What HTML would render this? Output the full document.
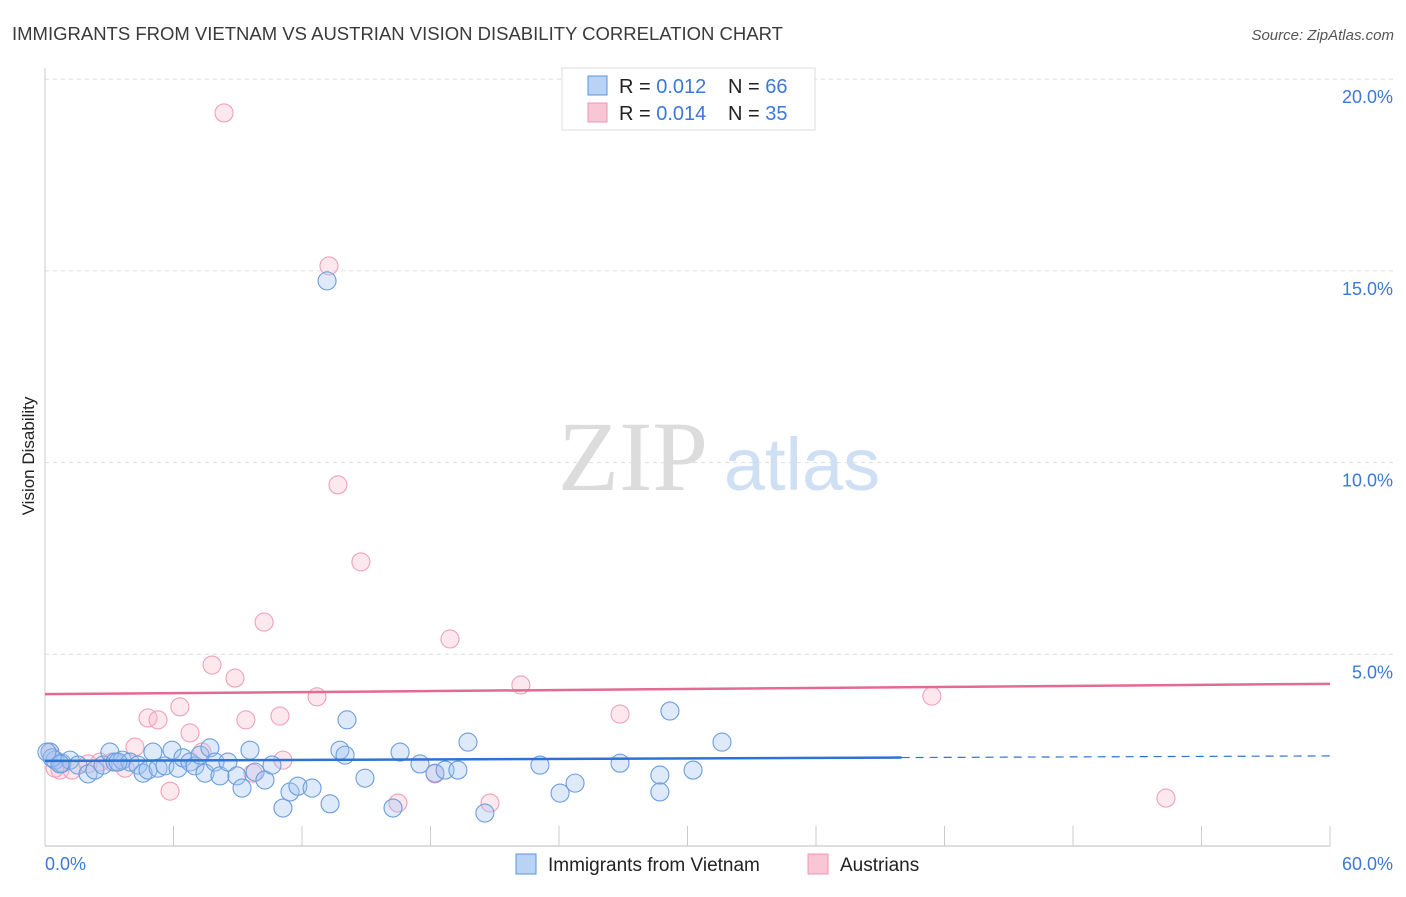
<!DOCTYPE html>
<html><head><meta charset="utf-8"><style>
body{margin:0;background:#fff;font-family:"Liberation Sans",sans-serif}
</style></head><body>
<svg width="1406" height="892" xmlns="http://www.w3.org/2000/svg" font-family="Liberation Sans, sans-serif">
<text x="12" y="40" font-size="18.5" fill="#3a3a3a">IMMIGRANTS FROM VIETNAM VS AUSTRIAN VISION DISABILITY CORRELATION CHART</text>
<text x="1394" y="40" font-size="15" fill="#555" font-style="italic" text-anchor="end">Source: ZipAtlas.com</text>
<text x="34" y="456" font-size="17" fill="#222" transform="rotate(-90 34 456)" text-anchor="middle">Vision Disability</text>
<g><text x="633" y="490" font-size="100" fill="#dcdcdc" text-anchor="middle" font-family="Liberation Serif, serif">ZIP</text><text x="802" y="490" font-size="74" fill="#cfe0f4" text-anchor="middle">atlas</text></g>
<g id="grid"></g><g id="axes"></g><g id="pts"></g><g id="trends"></g>
<g>
<rect x="562" y="68" width="253" height="62" fill="#fff" stroke="#ddd"/>
<rect x="588" y="76" width="19" height="19" fill="#b8d3f5" stroke="#5b93d9"/>
<text y="93" font-size="20" fill="#222"><tspan x="619">R = </tspan><tspan fill="#3b78d8">0.012</tspan><tspan x="728">N = </tspan><tspan fill="#3b78d8">66</tspan></text>
<rect x="588" y="103" width="19" height="19" fill="#f9c6d6" stroke="#ee94b0"/>
<text y="120" font-size="20" fill="#222"><tspan x="619">R = </tspan><tspan fill="#3b78d8">0.014</tspan><tspan x="728">N = </tspan><tspan fill="#3b78d8">35</tspan></text>
</g>
<g>
<rect x="516" y="854" width="20" height="20" fill="#b8d3f5" stroke="#5b93d9"/>
<text x="548" y="871" font-size="19" fill="#222">Immigrants from Vietnam</text>
<rect x="808" y="854" width="20" height="20" fill="#f9c6d6" stroke="#ee94b0"/>
<text x="840" y="871" font-size="19" fill="#222">Austrians</text>
</g>
</svg>
<script>
const yTicks=[5,10,15,20];
const yTickLabels=["5.0%","10.0%","15.0%","20.0%"];
const xTickLabels=["0.0%","60.0%"];
const blueX=[0.23,0.47,0.79,1.17,1.54,2.01,2.33,2.71,3.03,3.27,3.60,3.97,4.34,4.58,4.81,5.04,5.28,5.60,5.93,6.21,6.44,6.77,7.00,7.24,7.47,7.70,7.94,8.17,8.54,8.96,9.20,9.57,9.81,10.27,10.60,11.11,11.44,11.81,12.47,13.31,13.17,13.77,14.01,14.10,14.94,16.25,16.58,17.51,18.21,18.68,19.28,19.75,20.54,23.11,24.05,24.75,26.85,28.71,28.71,29.18,30.26,31.61,0.33,0.70,0.09,3.41];
const blueY=[2.45,2.24,2.16,2.24,2.11,1.88,1.98,2.11,2.45,2.19,2.24,2.19,2.11,1.90,1.98,2.45,2.03,2.09,2.50,2.03,2.30,2.19,2.09,2.37,1.90,2.56,2.19,1.83,2.19,1.83,1.51,2.50,1.93,1.72,2.11,0.99,1.41,1.56,1.51,1.10,14.74,2.50,2.37,3.29,1.77,0.99,2.45,2.14,1.90,1.98,1.98,2.71,0.86,2.11,1.38,1.64,2.16,1.85,1.41,3.52,1.98,2.71,2.30,2.14,2.45,2.19];
const pinkX=[8.36,13.26,13.68,14.75,10.23,18.91,7.80,8.87,22.22,12.70,6.30,4.81,5.28,9.38,10.97,26.85,41.41,6.77,4.20,7.33,11.11,2.57,0.70,1.26,3.74,9.71,18.21,16.48,20.78,52.34,5.84,0.23,2.01,3.13,0.47];
const pinkY=[19.12,15.13,9.42,7.41,5.84,5.40,4.72,4.38,4.20,3.89,3.63,3.34,3.29,3.29,3.39,3.44,3.91,2.95,2.58,2.45,2.24,2.19,1.98,1.98,2.03,1.90,1.88,1.12,1.12,1.25,1.43,2.45,2.14,2.19,2.03];
const blueTrend=[2.22,2.35];
const pinkTrend=[3.96,4.23];
const NS="http://www.w3.org/2000/svg";
const xs=v=>45+v/60*1285, ys=v=>846-v/5*191.7;
function mk(p,t,a){const e=document.createElementNS(NS,t);for(const k in a)e.setAttribute(k,a[k]);document.getElementById(p).appendChild(e);return e;}
yTicks.forEach((t,i)=>{
 let l=mk('grid','line',{x1:45,x2:1394,y1:ys(t),y2:ys(t),stroke:'#ddd','stroke-dasharray':'4,4'});
 
 
 let tx=mk('grid','text',{x:1393,y:ys(t)+24,'font-size':18,fill:'#3b78d8','text-anchor':'end'});tx.textContent=yTickLabels[i];
 
 
});
mk('axes','line',{x1:45,x2:45,y1:68,y2:846,stroke:'#ccc'});
let ax=mk('axes','line',{x1:45,x2:1330,y1:846,y2:846,stroke:'#bbb'});


for(let i=1;i<=10;i++){mk('axes','line',{x1:xs(i*6),x2:xs(i*6),y1:826,y2:846,stroke:'#ccc'});}
let a0=mk('axes','text',{x:45,y:870,'font-size':18,fill:'#3b78d8'});a0.textContent=xTickLabels[0];


let a1=mk('axes','text',{x:1393,y:870,'font-size':18,fill:'#3b78d8','text-anchor':'end'});a1.textContent=xTickLabels[1];


pinkX.forEach((x,i)=>{let c=mk('pts','circle',{cx:xs(x),cy:ys(pinkY[i]),r:9,fill:'rgba(247,178,200,0.3)',stroke:'#f0a0ba','stroke-width':1.1});
 
 });
blueX.forEach((x,i)=>{let c=mk('pts','circle',{cx:xs(x),cy:ys(blueY[i]),r:9,fill:'rgba(160,196,240,0.35)',stroke:'#6a9ede','stroke-width':1.1});
 
 });
let pl=mk('trends','line',{x1:xs(0),x2:xs(60),y1:ys(pinkTrend[0]),y2:ys(pinkTrend[1]),stroke:'#e36b93','stroke-width':2.5});


const bm=blueTrend[0]+(blueTrend[1]-blueTrend[0])*(40/60);
let bl=mk('trends','line',{x1:xs(0),x2:xs(40),y1:ys(blueTrend[0]),y2:ys(bm),stroke:'#2f72d6','stroke-width':2.5});


let bd=mk('trends','line',{x1:xs(40),x2:xs(60),y1:ys(bm),y2:ys(blueTrend[1]),stroke:'#2f72d6','stroke-width':1.2,'stroke-dasharray':'8,6'});


</script>
</body></html>
